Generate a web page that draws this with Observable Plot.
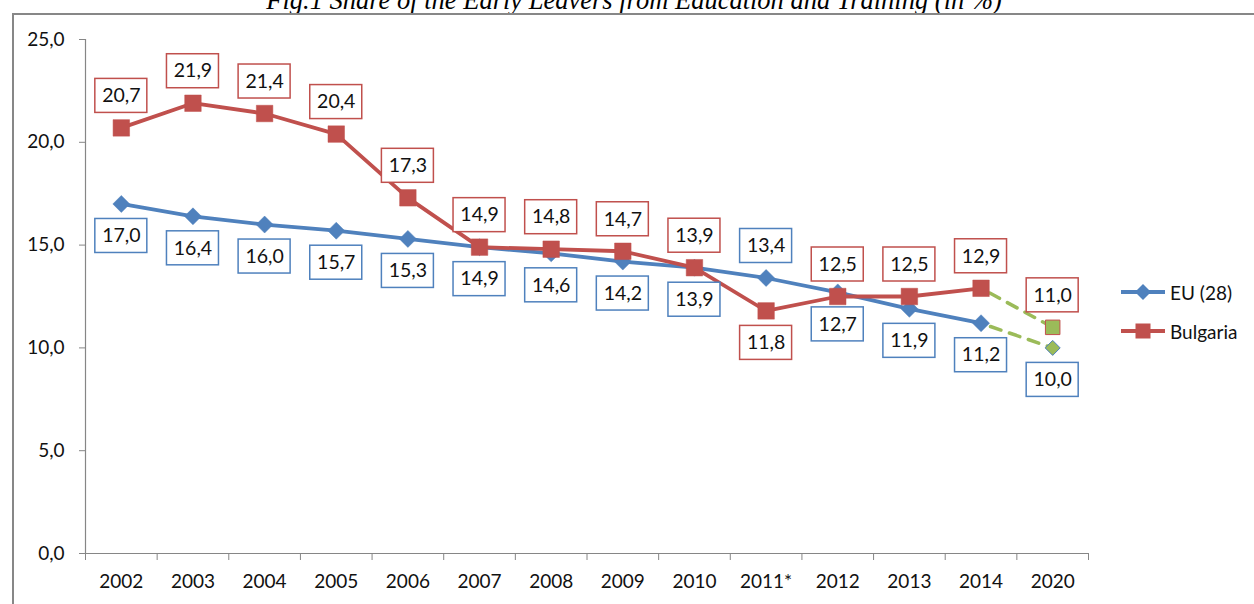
<!DOCTYPE html>
<html>
<head>
<meta charset="utf-8">
<script src="https://cdn.jsdelivr.net/npm/d3@7"></script>
<script src="https://cdn.jsdelivr.net/npm/@observablehq/plot@0.6"></script>
<style>
  html, body { margin: 0; padding: 0; background: #fff; }
  #wrap { position: relative; width: 1254px; height: 604px; overflow: hidden; font-family: Lato, "Open Sans", sans-serif; }
  #title { position: absolute; left: 634px; top: -13px; transform: translateX(-50%); white-space: nowrap;
           font-family: "Liberation Serif", "DejaVu Serif", serif; font-style: italic; font-size: 26.5px; line-height: 1; color: #000; }
  #frame { position: absolute; left: 12px; top: 13px; width: 1400px; height: 800px;
           border-top: 2px solid #878787; border-left: 2px solid #878787; }
  #chart { position: absolute; left: 0; top: 0; }
  .leg { position: absolute; left: 1120px; display: flex; align-items: center; font-size: 19px; color: #111; height: 24px; }
  .leg svg { display: block; margin-right: 4px; }
</style>
</head>
<body>
<div id="wrap">
  <div id="title">Fig.1 Share of the Early Leavers from Education and Training (in %)</div>
  <div id="frame"></div>
  <div id="chart"></div>
  <div id="legend"></div>
</div>
<script>
// ---- data ----
const years = ["2002","2003","2004","2005","2006","2007","2008","2009","2010","2011*","2012","2013","2014","2020"];
const euValues = [17.0,16.4,16.0,15.7,15.3,14.9,14.6,14.2,13.9,13.4,12.7,11.9,11.2,10.0];
const bgValues = [20.7,21.9,21.4,20.4,17.3,14.9,14.8,14.7,13.9,11.8,12.5,12.5,12.9,11.0];
const seriesNames = ["EU (28)", "Bulgaria"];
const yTicks = [0, 5, 10, 15, 20, 25];

// ---- styling ----
const blue = "#4F81BD", red = "#C0504D", green = "#9BBB59", axisGray = "#868686";
const fmt = v => v.toFixed(1).replace(".", ",");
const swapAt = years.indexOf("2011*");
const last = years.length - 1;

const rows = vals => vals.map((v, i) => ({i, v, year: years[i]}));
const eu = rows(euValues), bg = rows(bgValues);

const diamond = {draw(ctx, size) { const h = Math.sqrt(size / 2); ctx.moveTo(0, -h); ctx.lineTo(h, 0); ctx.lineTo(0, h); ctx.lineTo(-h, 0); ctx.closePath(); }};
const square = {draw(ctx, size) { const h = Math.sqrt(size) / 2; ctx.rect(-h, -h, 2 * h, 2 * h); }};
const rFor = (side, kind) => kind === "d" ? Math.sqrt(2 * (side / 2) ** 2 / Math.PI) : Math.sqrt(side * side / Math.PI);

function labels(data, color, above) {
  const dy = above ? -32 : 32;
  return [
    Plot.rect(data, {x1: "i", x2: "i", y1: "v", y2: "v", insetLeft: -26, insetRight: -26, insetTop: -17, insetBottom: -17,
      dy, fill: "white", stroke: color, strokeWidth: 1.5}),
    Plot.text(data, {x: "i", y: "v", text: d => fmt(d.v), dy, fill: "#111", fontSize: 19.5})
  ];
}

const idx = d3.range(years.length);
const bounds = d3.range(years.length + 1).map(i => i - 0.5);

const chart = Plot.plot({
  width: 1254, height: 604,
  marginLeft: 85, marginRight: 166, marginTop: 39, marginBottom: 51,
  style: {fontFamily: "Lato, 'Open Sans', sans-serif", fontSize: "19px", color: "#111", background: "transparent"},
  x: {type: "linear", domain: [-0.5, last + 0.5]},
  y: {domain: [0, 25]},
  marks: [
    Plot.ruleX([-0.5], {y1: 0, y2: 25, stroke: axisGray, strokeWidth: 1.2}),
    Plot.ruleY([0], {x1: -0.5, x2: last + 0.5, stroke: axisGray, strokeWidth: 1.2}),
    Plot.axisY({ticks: yTicks, tickSize: 6, tickPadding: 15, tickFormat: fmt, stroke: axisGray, fill: "#111", label: null, fontSize: 19}),
    Plot.axisX(bounds, {tickSize: 7, tickFormat: () => "", stroke: axisGray, label: null}),
    Plot.axisX(idx, {tickSize: 0, tickPadding: 21, tickFormat: i => years[i], fill: "#111", label: null, fontSize: 19}),
    // dashed projection to 2020
    Plot.line(eu.filter(d => d.i >= last - 1), {x: "i", y: "v", stroke: green, strokeWidth: 3.5, strokeDasharray: "11,9", strokeDashoffset: -10}),
    Plot.line(bg.filter(d => d.i >= last - 1), {x: "i", y: "v", stroke: green, strokeWidth: 3.5, strokeDasharray: "11,9", strokeDashoffset: -10}),
    // EU
    Plot.line(eu.filter(d => d.i < last), {x: "i", y: "v", stroke: blue, strokeWidth: 3.8}),
    Plot.dot(eu.filter(d => d.i < last), {x: "i", y: "v", symbol: diamond, r: rFor(17, "d"), fill: blue, stroke: blue, strokeWidth: 0.5}),
    Plot.dot(eu.filter(d => d.i === last), {x: "i", y: "v", symbol: diamond, r: rFor(15, "d"), fill: green, stroke: blue, strokeWidth: 1}),
    // Bulgaria
    Plot.line(bg.filter(d => d.i < last), {x: "i", y: "v", stroke: red, strokeWidth: 3.8}),
    Plot.dot(bg.filter(d => d.i < last), {x: "i", y: "v", symbol: square, r: rFor(16.5, "s"), fill: red, stroke: red, strokeWidth: 0.5}),
    Plot.dot(bg.filter(d => d.i === last), {x: "i", y: "v", symbol: square, r: rFor(14.5, "s"), fill: green, stroke: red, strokeWidth: 1}),
    // data labels
    ...labels(eu.filter(d => d.i !== swapAt), blue, false),
    ...labels(eu.filter(d => d.i === swapAt), blue, true),
    ...labels(bg.filter(d => d.i !== swapAt), red, true),
    ...labels(bg.filter(d => d.i === swapAt), red, false)
  ]
});
document.getElementById("chart").appendChild(chart);

// legend
const legend = document.getElementById("legend");
const legItems = [
  {name: seriesNames[0], color: blue, marker: `<path d="M23,2 L31,10 L23,18 L15,10 Z" fill="${blue}"/>`, y: 280},
  {name: seriesNames[1], color: red, marker: `<rect x="15.5" y="2.5" width="15" height="15" fill="${red}"/>`, y: 319}
];
for (const it of legItems) {
  const el = document.createElement("div");
  el.className = "leg";
  el.style.top = it.y + "px";
  el.innerHTML = `<svg width="46" height="20"><line x1="1" x2="45" y1="10" y2="10" stroke="${it.color}" stroke-width="3.8"/>${it.marker}</svg><span>${it.name}</span>`;
  legend.appendChild(el);
}
</script>
</body>
</html>
